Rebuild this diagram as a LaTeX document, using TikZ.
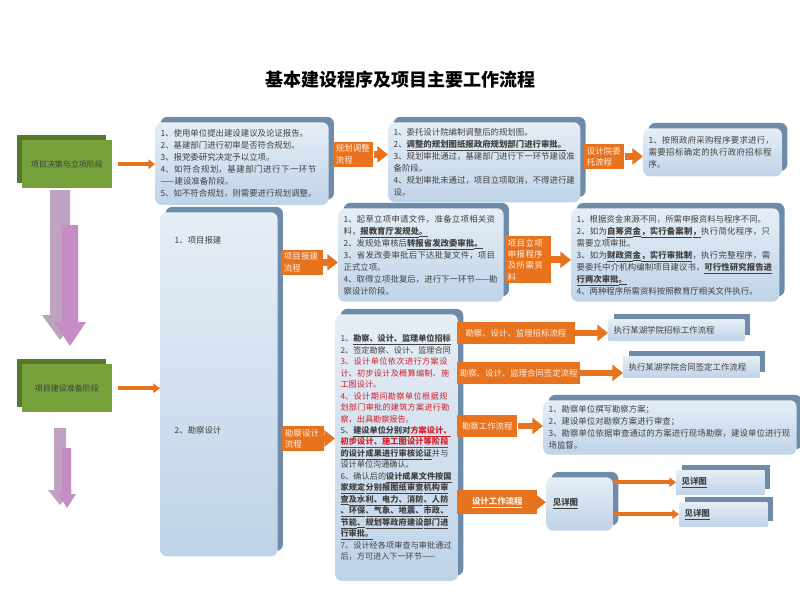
\documentclass[tikz,border=0pt]{standalone}
\usepackage{fontspec}
\setmainfont{Noto Sans CJK SC}
\usepackage{tikz}
\usetikzlibrary{arrows.meta,shadows,positioning}
\XeTeXlinebreaklocale "zh"
\XeTeXlinebreakskip=0pt plus 1pt
\definecolor{panelfront}{HTML}{BFD3E8}
\definecolor{panellight}{HTML}{E6EEF6}
\definecolor{panelside}{HTML}{6F8BAA}
\definecolor{stepgreen}{HTML}{76A03A}
\definecolor{stepside}{HTML}{55782A}
\definecolor{flow}{HTML}{E8731E}
\definecolor{redtext}{HTML}{D0202A}
% underline that may break between characters
\def\ul#1{\ulloop#1\relax}
\def\ulloop#1{\ifx#1\relax\else\underline{\textbf{#1}}\hskip0pt plus 0.5pt\expandafter\ulloop\fi}
\tikzset{
  panel/.style={anchor=north west, rounded corners=5pt, top color=panellight, bottom color=panelfront,
    general shadow={shadow xshift=4pt, shadow yshift=4pt, fill=panelside, rounded corners=5pt},
    inner sep=4pt, align=left, font=\fontsize{6.3}{9}\selectfont, text=black!75},
  stage/.style={anchor=north west, fill=stepgreen, minimum width=67pt, minimum height=36pt,
    general shadow={shadow xshift=-4pt, shadow yshift=4pt, fill=stepside},
    font=\fontsize{6}{8}\selectfont, text=black!75},
  tag/.style={anchor=north west, fill=flow, inner sep=2pt, align=left, text=white!90!flow,
    font=\fontsize{6.3}{8.5}\selectfont},
  go/.style={flow, line width=5pt, -{Triangle[length=8pt,width=12pt]}},
  thin go/.style={flow, line width=3pt, -{Triangle[length=5pt,width=7pt]}}
}
\begin{document}
\begin{tikzpicture}[x=0.75pt,y=-0.75pt]
\useasboundingbox (0,0) rectangle (800,600);
\node[font=\fontsize{13.5}{15}\selectfont\bfseries] (title) at (400,80) {基本建设程序及项目主要工作流程};

% stages
\node[stage] (decide) at (22,140) {项目决策与立项阶段};
\node[stage] (prepare) at (22,364) {项目建设准备阶段};
\fill[gray!55!violet!50] (50,190) -- (70,190) -- (70,315) -- (78,315) -- (60,340) -- (42,315) -- (50,315) -- cycle;
\fill[violet!45] (62,225) -- (78,225) -- (78,322) -- (86,322) -- (70,346) -- (54,322) -- (62,322) -- cycle;
\fill[gray!55!violet!50] (54,428) -- (66,428) -- (66,490) -- (72,490) -- (60,505) -- (48,490) -- (54,490) -- cycle;
\fill[violet!45] (62,448) -- (71,448) -- (71,494) -- (76,494) -- (67,508) -- (58,494) -- (62,494) -- cycle;

% decision row
\node[panel, text width=122pt, minimum height=62pt] (apply) at (155,122) {
1、使用单位提出建设建议及论证报告。\\
2、基建部门进行初审是否符合规划。\\
3、报党委研究决定予以立项。\\
4、如符合规划，基建部门进行下一环节——建设准备阶段。\\
5、如不符合规划，则需要进行规划调整。};
\node[tag, text width=26pt] (adjust) at (333,142) {规划调整流程};
\node[panel, text width=136pt, minimum height=60pt] (plan) at (388,122) {
1、委托设计院编制调整后的规划图。\\
2、\ul{调整的规划图纸报政府规划部门进行审批。}\\
3、规划审批通过，基建部门进行下一环节建设准备阶段。\\
4、规划审批未通过，项目立项取消，不得进行建设。};
\node[tag, text width=26pt] (entrust) at (584,144) {设计院委托流程};
\node[panel, text width=96pt, minimum height=36pt] (buy) at (643,128) {
1、按照政府采购程序要求进行，需要招标确定的执行政府招标程序。};

% preparation column
\node[panel, minimum width=88pt, minimum height=258pt, text width=78pt] (prep) at (160,212) {};
\node[font=\fontsize{6.3}{8}\selectfont, text=black!75, anchor=west] (report) at (170,240) {1、项目报建};
\node[font=\fontsize{6.3}{8}\selectfont, text=black!75, anchor=west] (design) at (170,430) {2、勘察设计};
\draw[thin go] (decide.east) ++(6,0) coordinate (d1) -- (apply.west |- d1);
\draw[thin go] (prepare.east) ++(6,0) coordinate (p1) -- (prep.west |- p1);

\node[tag, text width=27pt] (regist) at (281,250) {项目报建流程};
\node[panel, text width=116pt, minimum height=70pt] (proj) at (338,208) {
1、起草立项申请文件，准备立项相关资料，\ul{报教育厅发规处。}\\
2、发规处审核后\ul{转报省发改委审批。}\\
3、省发改委审批后下达批复文件，项目正式立项。\\
4、取得立项批复后，进行下一环节——勘察设计阶段。};
\node[tag, text width=30pt] (declare) at (505,236) {项目立项申报程序及所需资料};
\node[panel, text width=148pt, minimum height=70pt] (fund) at (571,208) {
1、根据资金来源不同，所需申报资料与程序不同。\\
2、如为\ul{自筹资金，实行备案制，}执行简化程序，只需要立项审批。\\
3、如为\ul{财政资金，实行审批制}，执行完整程序，需要委托中介机构编制项目建议书，\ul{可行性研究报告进行两次审批。}\\
4、两种程序所需资料按照教育厅相关文件执行。};

\node[tag, text width=27pt] (survey) at (282,426) {勘察设计流程};
\node[panel, text width=84pt, minimum height=200pt, font=\fontsize{6.1}{8.6}\selectfont] (steps) at (335,314) {
1、\ul{勘察、设计、监理单位招标}\\
2、签定勘察、设计、监理合同\\
\textcolor{redtext}{3、设计单位依次进行方案设计、初步设计及概算编制、施工图设计。}\\
\textcolor{redtext}{4、设计期间勘察单位根据规划部门审批的建筑方案进行勘察，出具勘察报告。}\\
5、\ul{建设单位分别对}\textcolor{redtext}{\ul{方案设计、初步设计、施工图设计等阶段}}\ul{的设计成果进行审核论证}并与设计单位沟通确认。\\
6、确认后的\ul{设计成果文件按国家规定分别报图纸审查机构审查及水利、电力、消防、人防、环保、气象、地震、市政、节能、规划等政府建设部门进行审批。}\\
7、设计经各项审查与审批通过后，方可进入下一环节——};

\node[tag, minimum width=88pt, minimum height=16pt] (bid) at (457,322) {勘察、设计、监理招标流程};
\node[panel, text width=94pt, minimum height=16pt, rounded corners=0pt] (bidrule) at (608,319) {执行某湖学院招标工作流程};
\node[tag, minimum width=80pt, minimum height=16pt] (sign) at (457,362) {勘察、设计、监理合同签定流程};
\node[panel, text width=94pt, minimum height=16pt, rounded corners=0pt] (signrule) at (623,356) {执行某湖学院合同签定工作流程};
\node[tag, minimum width=45pt, minimum height=16pt] (work) at (457,415) {勘察工作流程};
\node[panel, text width=182pt, minimum height=36pt] (field) at (543,400) {
1、勘察单位撰写勘察方案；\\
2、建设单位对勘察方案进行审查；\\
3、勘察单位依据审查通过的方案进行现场勘察，建设单位进行现场监督。};
\node[tag, minimum width=60pt, minimum height=18pt, font=\fontsize{6.3}{8}\selectfont\bfseries\itshape] (draw) at (457,490) {\underline{设计工作流程}};
\node[panel, minimum width=50pt, minimum height=40pt, text width=40pt] (see) at (546,477) {\ul{见详图}};
\node[panel, text width=58pt, minimum height=18pt, rounded corners=0pt] (seeA) at (676,470) {\ul{见详图}};
\node[panel, text width=58pt, minimum height=18pt, rounded corners=0pt] (seeB) at (679,502) {\ul{见详图}};

% connectors
\draw[go] (adjust.east) -- (plan.west |- adjust.east);
\draw[go] (entrust.east) -- (buy.west |- entrust.east);
\draw[go] (regist.east) -- (proj.west |- regist.east);
\draw[go] (declare.east) -- (fund.west |- declare.east);
\draw[go] (survey.east) -- (steps.west |- survey.east);
\draw[go] (bid.east) -- (bidrule.west |- bid.east);
\draw[go] (sign.east) -- (signrule.west |- sign.east);
\draw[go] (work.east) -- (field.west |- work.east);
\draw[go] (draw.east) -- (see.west |- draw.east);
\draw[thin go] (see.east |- seeA.west) -- (seeA.west);
\draw[thin go] (see.east |- seeB.west) -- (seeB.west);
\end{tikzpicture}
\end{document}
